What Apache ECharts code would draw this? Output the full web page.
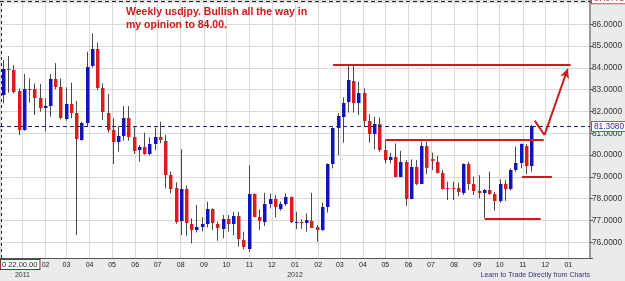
<!DOCTYPE html>
<html>
<head>
<meta charset="utf-8">
<script src="https://cdn.jsdelivr.net/npm/echarts@6/dist/echarts.min.js"></script>
<style>
  html, body { margin: 0; padding: 0; background: #ebebeb; }
  #chart { width: 625px; height: 281px; }
</style>
</head>
<body>
<div id="chart"></div>
<script>
// weekly USDJPY bars (week start)
const weekStarts = [
  '2010-12-06','2010-12-13','2010-12-20','2010-12-27',
  '2011-01-03','2011-01-10','2011-01-17','2011-01-24','2011-01-31',
  '2011-02-07','2011-02-14','2011-02-21','2011-02-28',
  '2011-03-07','2011-03-14','2011-03-21','2011-03-28',
  '2011-04-04','2011-04-11','2011-04-18','2011-04-25',
  '2011-05-02','2011-05-09','2011-05-16','2011-05-23','2011-05-30',
  '2011-06-06','2011-06-13','2011-06-20','2011-06-27',
  '2011-07-04','2011-07-11','2011-07-18','2011-07-25',
  '2011-08-01','2011-08-08','2011-08-15','2011-08-22','2011-08-29',
  '2011-09-05','2011-09-12','2011-09-19','2011-09-26',
  '2011-10-03','2011-10-10','2011-10-17','2011-10-24','2011-10-31',
  '2011-11-07','2011-11-14','2011-11-21','2011-11-28',
  '2011-12-05','2011-12-12','2011-12-19','2011-12-26',
  '2012-01-02','2012-01-09','2012-01-16','2012-01-23','2012-01-30',
  '2012-02-06','2012-02-13','2012-02-20','2012-02-27',
  '2012-03-05','2012-03-12','2012-03-19','2012-03-26',
  '2012-04-02','2012-04-09','2012-04-16','2012-04-23','2012-04-30',
  '2012-05-07','2012-05-14','2012-05-21','2012-05-28',
  '2012-06-04','2012-06-11','2012-06-18','2012-06-25',
  '2012-07-02','2012-07-09','2012-07-16','2012-07-23','2012-07-30',
  '2012-08-06','2012-08-13','2012-08-20','2012-08-27',
  '2012-09-03','2012-09-10','2012-09-17','2012-09-24',
  '2012-10-01','2012-10-08','2012-10-15','2012-10-22','2012-10-29',
  '2012-11-05','2012-11-12'
];

const opens = [
  82.76, 83.95, 83.90, 82.96, 81.15, 83.05, 83.03, 82.60, 82.14, 82.25,
  83.48, 83.11, 81.64, 82.34, 81.92, 80.72, 81.49, 84.06, 84.85, 83.06,
  81.95, 81.15, 80.62, 80.88, 81.72, 80.85, 80.23, 80.39, 80.05, 80.51,
  80.82, 80.66, 79.09, 78.50, 76.95, 78.43, 76.84, 76.55, 76.68, 76.84,
  77.51, 76.84, 76.64, 77.08, 76.84, 77.20, 76.10, 75.68, 78.21, 77.14,
  76.94, 77.76, 77.97, 77.55, 77.76, 78.06, 76.92, 76.94, 76.90, 76.99,
  76.68, 76.53, 77.60, 79.59, 81.23, 81.79, 82.41, 83.40, 82.41, 82.86,
  81.58, 80.97, 81.43, 80.23, 79.77, 79.92, 79.01, 79.70, 78.02, 79.47,
  78.67, 80.42, 79.80, 79.70, 79.20, 78.48, 78.47, 78.47, 78.27, 79.59,
  78.67, 78.37, 78.27, 78.40, 78.21, 77.91, 78.67, 78.43, 79.31, 79.62,
  80.42, 79.50
];
const highs = [
  84.36, 84.55, 84.13, 83.06, 83.72, 83.52, 83.29, 83.26, 82.60, 83.72,
  84.22, 83.52, 83.11, 83.32, 82.48, 81.53, 84.74, 85.59, 85.16, 83.29,
  82.80, 81.69, 81.33, 82.25, 82.25, 81.29, 80.46, 81.03, 80.82, 81.27,
  81.53, 80.92, 79.25, 78.75, 80.27, 78.60, 77.10, 77.71, 77.15, 77.86,
  77.55, 76.95, 77.25, 77.25, 77.40, 77.40, 76.49, 79.54, 78.24, 77.51,
  78.27, 78.24, 78.17, 77.87, 78.24, 78.10, 77.40, 77.05, 77.33, 78.27,
  76.79, 77.82, 79.62, 81.27, 81.92, 82.65, 84.18, 84.10, 83.37, 83.06,
  81.89, 81.76, 81.73, 80.66, 80.10, 80.54, 80.20, 79.77, 79.80, 79.77,
  80.62, 80.62, 80.11, 79.96, 79.31, 78.78, 78.78, 78.73, 79.62, 79.70,
  79.01, 79.08, 78.45, 79.24, 78.32, 78.89, 78.85, 79.39, 80.39, 80.54,
  80.51, 81.38
];
const lows = [
  82.37, 82.86, 82.83, 80.92, 81.12, 82.40, 81.84, 81.99, 81.08, 81.76,
  83.02, 81.64, 81.58, 81.69, 76.34, 80.66, 81.33, 84.02, 82.98, 81.61,
  81.03, 79.59, 80.16, 80.66, 80.66, 80.05, 79.70, 80.01, 79.98, 80.23,
  80.54, 78.47, 78.25, 76.85, 76.33, 76.30, 75.95, 76.45, 76.50, 76.68,
  76.56, 76.07, 76.18, 76.49, 76.33, 75.80, 75.68, 75.57, 77.14, 76.56,
  76.74, 77.55, 77.14, 77.45, 77.67, 76.88, 76.60, 76.63, 76.49, 76.68,
  76.03, 76.53, 77.36, 79.39, 80.00, 80.57, 81.95, 81.95, 81.84, 81.30,
  80.57, 80.26, 80.16, 79.62, 79.62, 78.98, 78.98, 77.67, 77.98, 78.62,
  78.67, 79.13, 79.31, 79.16, 78.42, 77.94, 77.94, 78.12, 78.17, 78.40,
  78.17, 78.02, 77.10, 78.17, 77.45, 77.82, 77.90, 78.37, 79.24, 79.39,
  79.13, 79.24
];
const closes = [
  83.93, 83.90, 82.91, 81.18, 83.03, 83.00, 82.60, 82.14, 82.25, 83.48,
  83.11, 81.69, 82.34, 81.95, 80.72, 81.49, 84.06, 84.85, 83.06, 81.95,
  81.15, 80.62, 80.88, 81.72, 80.85, 80.23, 80.39, 80.05, 80.51, 80.82,
  80.66, 79.09, 78.47, 76.92, 78.43, 76.87, 76.55, 76.68, 76.84, 77.51,
  76.87, 76.64, 77.08, 76.84, 77.20, 76.13, 75.77, 78.21, 77.14, 76.94,
  77.76, 77.97, 77.60, 77.76, 78.06, 76.90, 76.94, 76.92, 77.02, 76.68,
  76.53, 77.60, 79.59, 81.23, 81.79, 82.41, 83.44, 82.41, 82.86, 81.58,
  80.97, 81.43, 80.23, 79.77, 79.92, 79.01, 79.70, 78.02, 79.47, 78.67,
  80.42, 79.39, 79.70, 79.20, 78.47, 78.46, 78.46, 78.27, 79.59, 78.67,
  78.37, 78.27, 78.40, 78.21, 77.91, 78.67, 78.43, 79.31, 79.62, 80.51,
  79.50, 81.33
];

// hand drawn annotation levels
const resistance = 84.14;
const breakLevel = 80.70;
const supportHigh = 79.00;
const supportLow = 77.10;
const lastPrice = 81.308;
const topPrice = 87.0773;

const DAY = 86400000;
const ts = s => +new Date(s + 'T00:00:00');
const RED = '#cc1b1b';
const lastBar = ts(weekStarts[weekStarts.length - 1]);

const chart = echarts.init(document.getElementById('chart'));

const candleData = weekStarts.map((d, i) => [ts(d), opens[i], closes[i], lows[i], highs[i]]);

function renderCandle(params, api) {
  const t = api.value(0);
  const o = api.value(1), c = api.value(2), l = api.value(3), h = api.value(4);
  const pH = api.coord([t, h]);
  const pL = api.coord([t, l]);
  const pO = api.coord([t, o]);
  const pC = api.coord([t, c]);
  const cx = Math.round(pO[0]);
  const yTop = Math.round(Math.min(pO[1], pC[1]));
  const bh = Math.max(Math.round(Math.abs(pO[1] - pC[1])), 1);
  return {
    type: 'group',
    children: [
      { type: 'line', shape: { x1: cx + 0.5, y1: pH[1], x2: cx + 0.5, y2: pL[1] },
        style: { stroke: '#4a4a4a', lineWidth: 1 } },
      { type: 'rect', shape: { x: cx - 1, y: yTop, width: 3.5, height: bh },
        style: { fill: c >= o ? '#1212c4' : '#dc1c1c' } }
    ]
  };
}

const option = {
  animation: false,
  backgroundColor: '#ebebeb',
  textStyle: { fontFamily: 'Liberation Sans, Arial, sans-serif' },
  grid: { left: 0, right: 35, top: 0, bottom: 23, show: true, backgroundColor: '#fff', borderWidth: 0 },
  xAxis: {
    type: 'time',
    min: ts('2010-12-02'),
    max: ts('2013-01-30'),
    splitNumber: 26,
    minInterval: 28 * DAY,
    maxInterval: 31 * DAY,
    axisLine: { lineStyle: { color: '#555', width: 1 } },
    axisTick: { show: false },
    splitLine: { show: true, lineStyle: { color: '#d9d9d9', width: 1 } },
    axisLabel: {
      margin: 2,
      fontSize: 7,
      color: '#222',
      lineHeight: 10,
      hideOverlap: false,
      formatter: function (value) {
        const d = new Date(value);
        if (d.getDate() !== 1 || d.getHours() !== 0) return '';
        const m = d.getMonth() + 1;
        const mm = (m < 10 ? '0' : '') + m;
        // year only under Januaries that fall inside the data
        return (m === 1 && value <= lastBar) ? mm + '\n{y|' + d.getFullYear() + '}' : mm;
      },
      rich: { y: { fontSize: 7, color: '#333', lineHeight: 10 } }
    }
  },
  yAxis: {
    type: 'value',
    position: 'right',
    min: 75.28,
    max: 87.115,
    splitNumber: 12,
    minInterval: 1,
    maxInterval: 1,
    axisLine: { show: true, lineStyle: { color: '#9a9a9a', width: 2 } },
    axisTick: { show: true, length: 3, lineStyle: { color: '#555' } },
    splitLine: { lineStyle: { color: '#d9d9d9', width: 1 } },
    axisLabel: {
      margin: 2,
      fontSize: 8.3,
      color: '#333',
      formatter: v => (v > 86.5 || v < 75.5) ? '' : v.toFixed(4)
    }
  },
  series: [
    {
      type: 'custom',
      name: 'USDJPY',
      renderItem: renderCandle,
      encode: { x: 0, y: [1, 2, 3, 4] },
      clip: true,
      data: candleData
    },
    {
      // price markers and crosshair
      type: 'line',
      data: [],
      markLine: {
        silent: true,
        symbol: ['none', 'none'],
        data: [
          { yAxis: lastPrice,
            lineStyle: { color: '#20206e', type: [4, 3], width: 1 },
            label: { show: true, position: 'end', distance: 2, formatter: lastPrice.toFixed(4),
                     color: '#2a2a9a', fontSize: 8.3, backgroundColor: '#fff',
                     borderColor: '#b05858', borderWidth: 1, padding: [1, 2, 0, 2] } },
          { yAxis: topPrice,
            lineStyle: { color: '#222', type: [4, 3], width: 1 },
            label: { show: true, position: 'end', distance: 2, formatter: topPrice.toFixed(4),
                     color: '#a03030', fontSize: 8.3, backgroundColor: '#fff',
                     borderColor: '#b05858', borderWidth: 1, padding: [1, 2, 0, 2], offset: [0, -2] } },
          { xAxis: ts('2010-12-03') + 8 * 3600000,
            lineStyle: { color: '#222', type: [3, 3], width: 1 },
            label: { show: false } }
        ]
      }
    },
    {
      // red trend annotations
      type: 'line',
      data: [],
      markLine: {
        silent: true,
        symbol: ['none', 'none'],
        lineStyle: { color: RED, width: 2, type: 'solid' },
        label: { show: false },
        data: [
          [{ coord: [ts('2012-02-21'), resistance] }, { coord: [ts('2013-01-04'), resistance] }],
          [{ coord: [ts('2012-05-01'), breakLevel] }, { coord: [ts('2012-11-29'), breakLevel] }],
          [{ coord: [ts('2012-10-31'), supportHigh] }, { coord: [ts('2012-12-10'), supportHigh] }],
          [{ coord: [ts('2012-09-11'), supportLow] }, { coord: [ts('2012-11-25'), supportLow] }],
          [{ coord: [ts('2012-11-17'), 81.58] }, { coord: [ts('2012-11-30'), 80.92] }],
          [{ coord: [ts('2012-11-30'), 80.92] },
           { coord: [ts('2012-12-31'), 83.95], symbol: 'arrow', symbolSize: [7, 9] }]
        ]
      }
    }
  ],
  graphic: [
    {
      type: 'text',
      left: 126,
      top: 6,
      z: 10,
      style: {
        text: 'Weekly usdjpy. Bullish all the way in\nmy opinion to 84.00.',
        font: 'bold 10.5px "Liberation Sans", Arial, sans-serif',
        fill: '#d01818',
        lineHeight: 12.7
      }
    },
    {
      type: 'text',
      left: 0,
      top: 259,
      z: 10,
      style: {
        text: '0 22.00.00',
        font: '7.5px "Liberation Sans", Arial, sans-serif',
        fill: '#222',
        backgroundColor: '#fff',
        borderColor: '#8a2a2a',
        borderWidth: 1,
        padding: [1, 2, 0, 1]
      }
    },
    {
      type: 'text',
      right: 35,
      top: 272,
      z: 10,
      style: {
        text: 'Learn to Trade Directly from Charts',
        font: '7px "Liberation Sans", Arial, sans-serif',
        fill: '#33337a'
      }
    }
  ]
};

chart.setOption(option);
</script>
</body>
</html>
